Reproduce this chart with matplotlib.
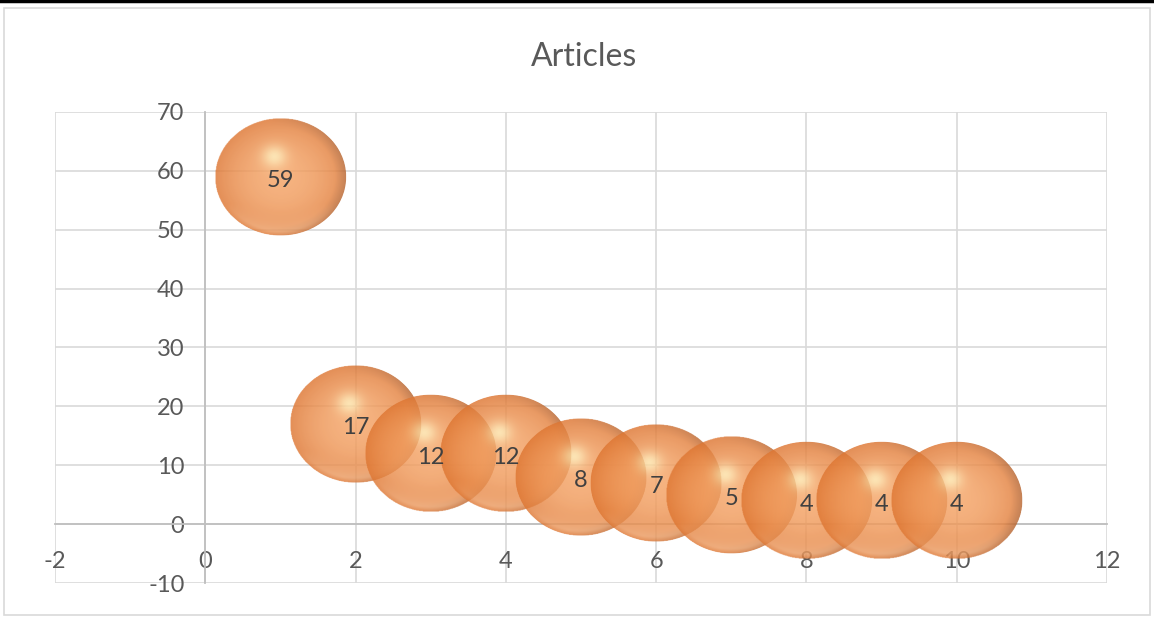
import numpy as np
import matplotlib.pyplot as plt
from matplotlib.patches import Ellipse, Rectangle
from matplotlib.lines import Line2D

# article counts per rank
rank = [1, 2, 3, 4, 5, 6, 7, 8, 9, 10]
articles = [59, 17, 12, 12, 8, 7, 5, 4, 4, 4]
bubble_size = [10, 10, 10, 10, 10, 10, 10, 10, 10, 10]

plt.rcParams['font.family'] = ['Lato', 'DejaVu Sans']
plt.rcParams['axes.unicode_minus'] = False
grey = '#595959'


def sphere_image(n=240):
    # shaded orange ball, translucent
    t = np.linspace(-1, 1, n)
    u, v = np.meshgrid(t, t)
    r = np.sqrt(u ** 2 + v ** 2)
    light = np.array([244, 162, 100]) / 255
    dark = np.array([222, 118, 50]) / 255
    k = np.clip(r, 0, 1) ** 2.0
    rgb = light[None, None, :] * (1 - k[..., None]) + dark[None, None, :] * k[..., None]
    # lower rim reflection
    rim = np.clip((-v - 0.45) / 0.45, 0, 1) * np.clip((r - 0.6) / 0.3, 0, 1) * np.clip((1.0 - r) / 0.08, 0, 1)
    refl = np.array([246, 185, 135]) / 255
    rgb = rgb * (1 - 0.5 * rim[..., None]) + refl * 0.5 * rim[..., None]
    # specular spot
    hl = np.exp(-((u + 0.1) ** 2 + (v - 0.35) ** 2) / 0.035)
    spot = np.array([255, 238, 180]) / 255
    rgb = rgb * (1 - 0.8 * hl[..., None]) + spot * 0.8 * hl[..., None]
    # dark edge on the right side
    edge = np.clip((r - 0.82) / 0.18, 0, 1) * np.clip(u + 0.2, 0, 1)
    rgb = rgb * (1 - 0.35 * edge[..., None]) + np.array([0.42, 0.27, 0.18]) * 0.35 * edge[..., None]
    alpha = np.where(r <= 1, 0.82, 0.0)
    return np.dstack([rgb, alpha])


fig = plt.figure(figsize=(11.54, 6.17), dpi=100)
ax = fig.add_axes([0.0477, 0.0551, 0.9116, 0.7634])

ax.set_xlim(-2, 12)
ax.set_ylim(-10, 70)
ax.set_xticks(range(-2, 13, 2))
ax.set_yticks(range(-10, 71, 10))
ax.grid(True, color='#d9d9d9', linewidth=1.2)
ax.set_axisbelow(True)

for s in ['top', 'right']:
    ax.spines[s].set_visible(False)
ax.spines['left'].set_position(('data', 0))
ax.spines['bottom'].set_position(('data', 0))
ax.spines['left'].set_color('#bfbfbf')
ax.spines['bottom'].set_color('#bfbfbf')
ax.spines['left'].set_linewidth(1.3)
ax.spines['bottom'].set_linewidth(1.3)
ax.tick_params(length=0, labelsize=17, labelcolor=grey)
ax.tick_params(axis='x', pad=19)
ax.tick_params(axis='y', pad=15)

img = sphere_image()
for x, y, s in zip(rank, articles, bubble_size):
    w = s * 0.175
    h = s * 2.0
    ext = (x - w / 2, x + w / 2, y - h / 2, y + h / 2)
    im = ax.imshow(img, extent=ext, origin='lower', aspect='auto',
                   interpolation='bilinear', zorder=3)
    clip = Ellipse((x, y), w, h, transform=ax.transData,
                   facecolor='none', edgecolor='none')
    ax.add_patch(clip)
    im.set_clip_path(clip)
    ax.text(x, y - 0.6, str(y), ha='center', va='center',
            fontsize=17, color='#404040', zorder=5)

ax.set_xlim(-2, 12)
ax.set_ylim(-10, 70)

fig.text(0.506, 0.908, 'Articles', ha='center', va='center',
         fontsize=23, color=grey)

# chart frame
fig.patches.append(Rectangle((4 / 1154, 2 / 617), 1146 / 1154, 607 / 617,
                             transform=fig.transFigure, fill=False,
                             edgecolor='#d9d9d9', linewidth=1.2))
fig.lines.append(Line2D([0, 1], [0.998, 0.998], transform=fig.transFigure,
                        color='black', linewidth=2.5))

fig.savefig('out.png', dpi=100)
